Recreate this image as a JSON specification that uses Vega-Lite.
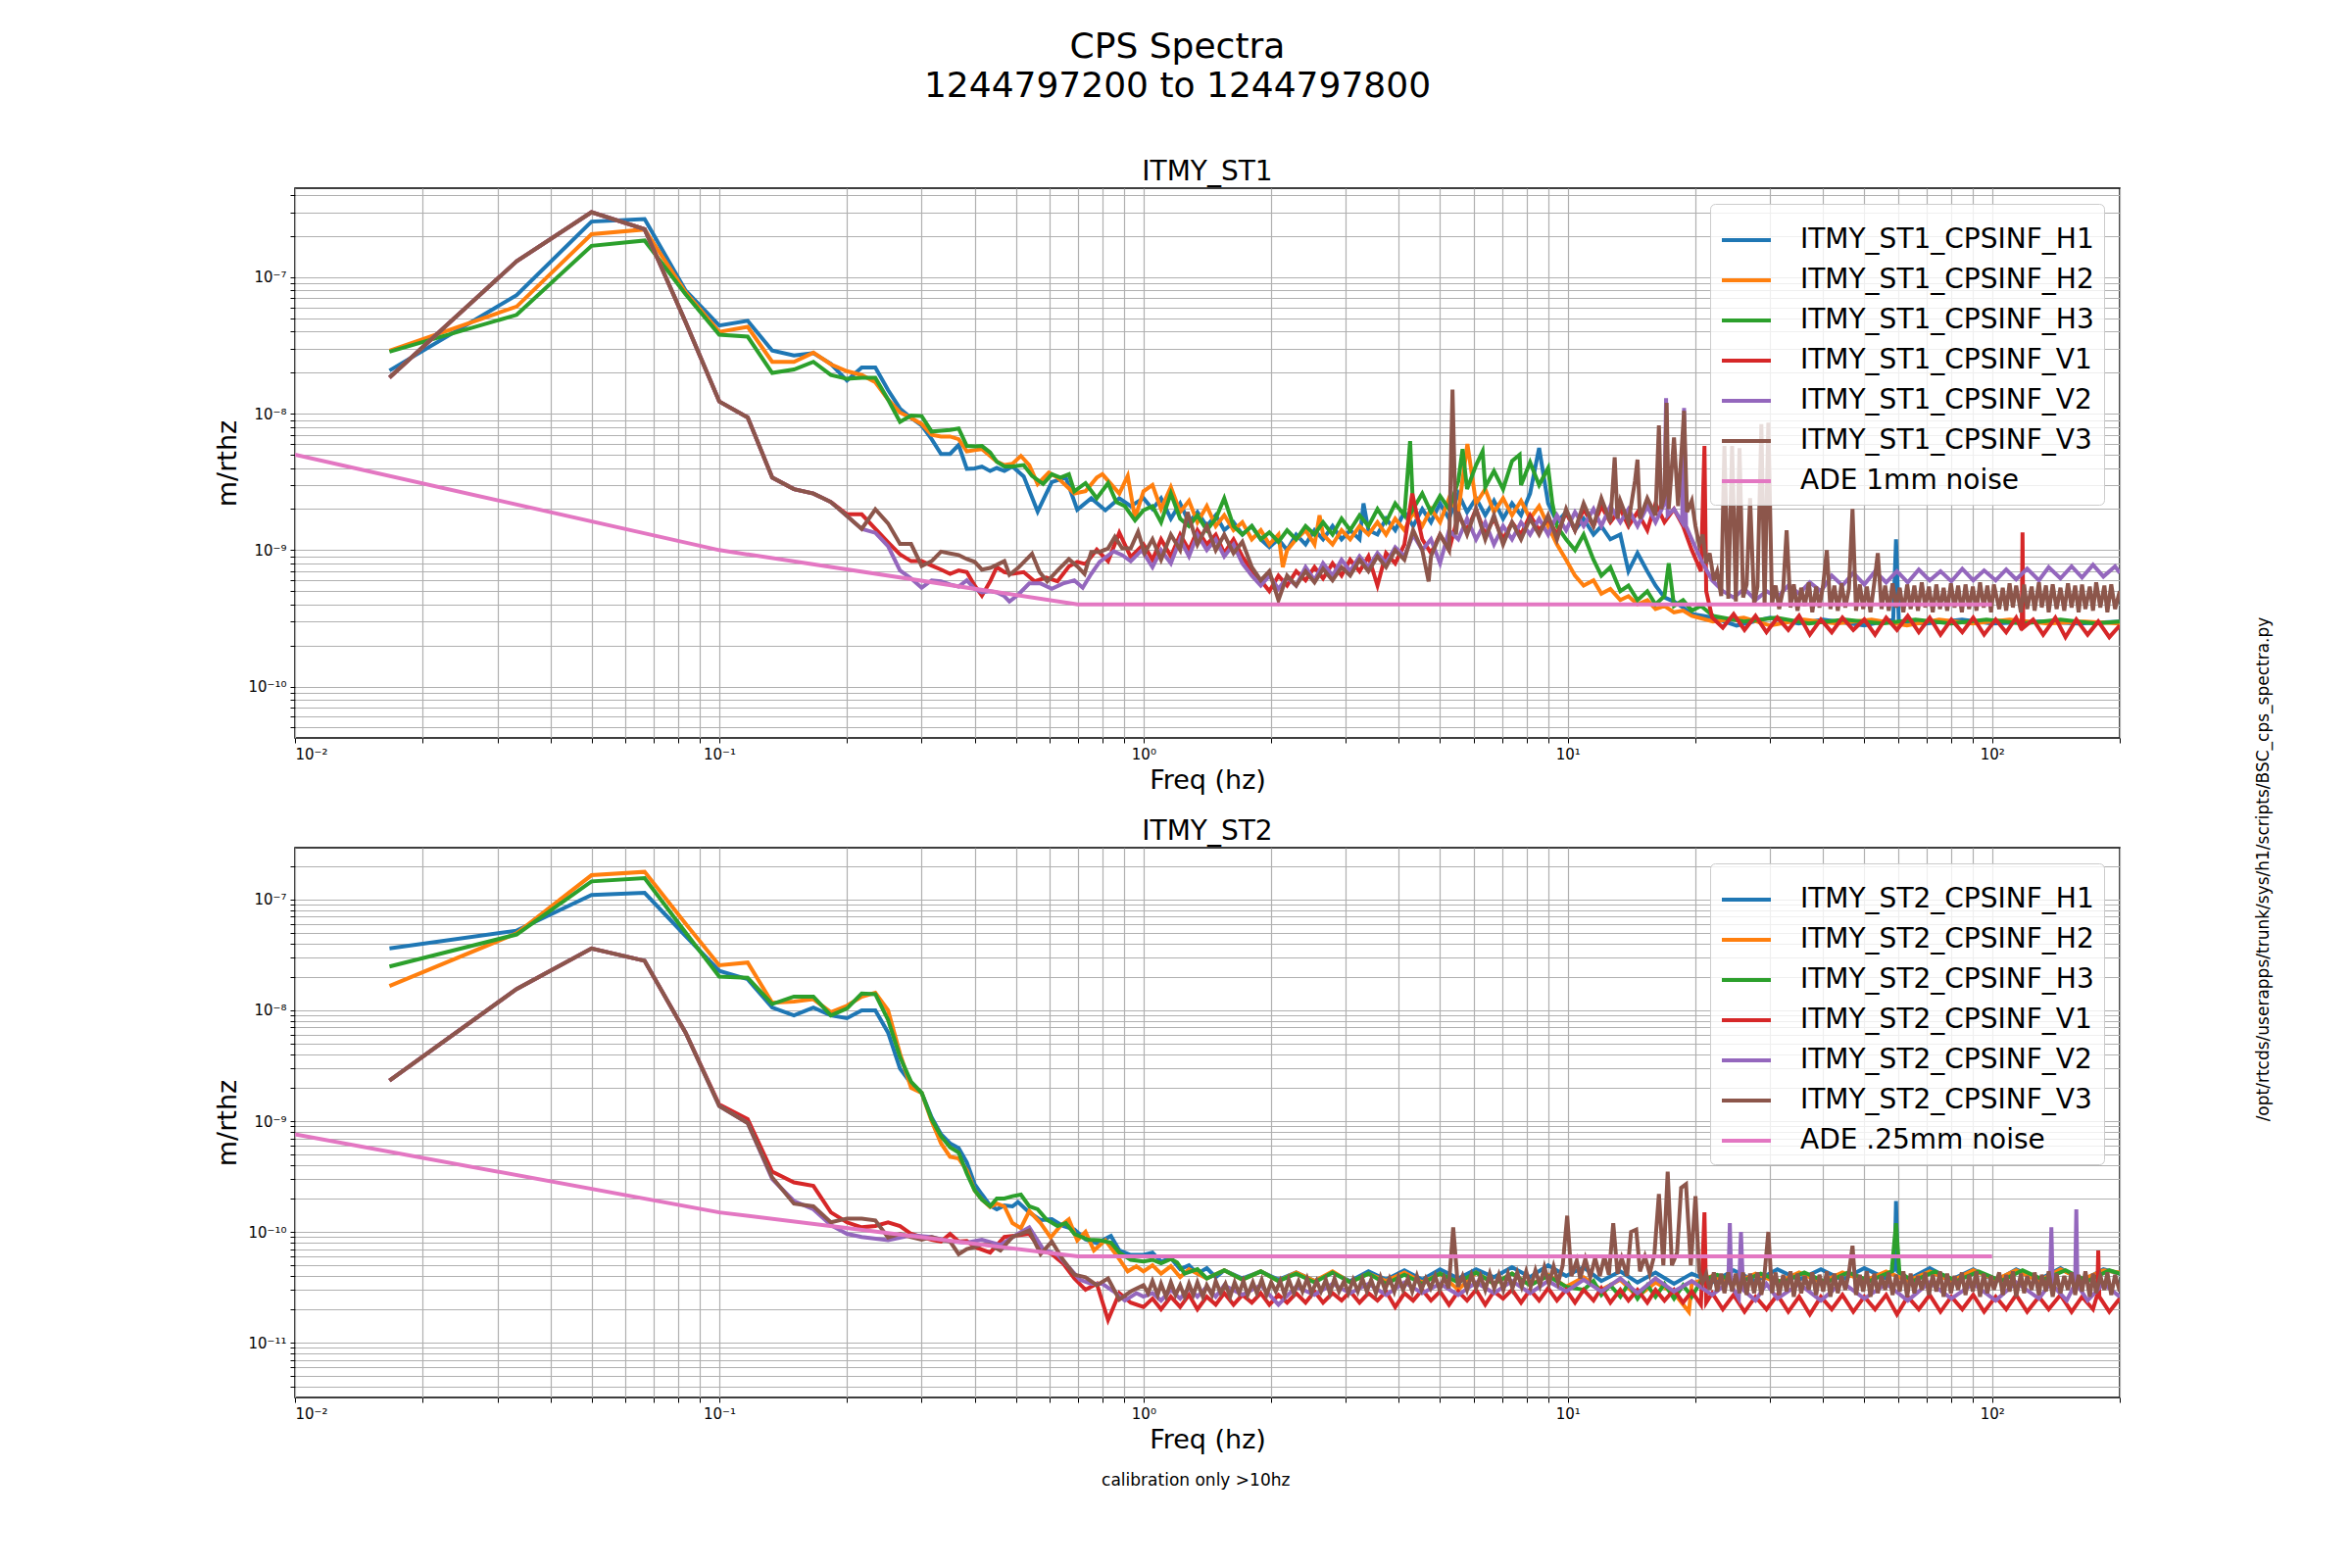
{
  "$schema": "https://vega.github.io/schema/vega-lite/v6.json",
  "background": "white",
  "padding": {"left": 218, "top": 30, "right": 0, "bottom": 0},
  "title": {"text": ["CPS Spectra", "1244797200 to 1244797800"], "fontSize": 36, "fontWeight": "normal", "lineHeight": 40, "offset": 54, "anchor": "middle", "dx": -70},
  "datasets": {
    "top": [
      {"s": "ITMY_ST1_CPSINF_H1",
       "f": [0.0167,0.0333,0.05,0.0667,0.0833,0.1,0.1167,0.1333,0.15,0.1667,0.1833,0.2,0.2167,0.2333,0.25,0.2667,0.2833,0.3,0.3167,0.3333,0.35,0.3667,0.3833,0.4,
             0.416,0.435,0.451,0.47,0.491,0.522,0.563,0.608,0.656,0.698,0.753,0.813,0.877,0.933,1.0,
             1.05,1.1,1.16,1.22,1.28,1.34,1.41,1.48,1.55,1.63,1.71,1.8,1.89,1.98,2.08,2.18,2.29,2.41,2.53,2.65,2.79,2.93,3.07,3.23,3.3,3.39,3.56,3.73,3.92,4.12,4.32,4.54,4.76,5.0,5.25,5.52,5.79,6.08,6.39,6.7,7.04,7.39,7.76,8.15,8.56,8.99,9.43,9.91,10.4,10.9,11.5,12.0,12.6,13.3,13.9,14.6,15.4,16.1,16.9,17.8,18.7,19.6,
             22,25,30,35,40,50,58.5,59.4,60.3,70,85,100,130,160,200],
       "v": [2.07e-8,7.4e-8,2.56e-7,2.67e-7,8.0e-8,4.43e-8,4.8e-8,2.9e-8,2.67e-8,2.78e-8,2.32e-8,1.75e-8,2.18e-8,2.18e-8,1.49e-8,1.09e-8,9.3e-9,8.2e-9,6.5e-9,5.07e-9,5.07e-9,5.9e-9,3.94e-9,3.97e-9,
             4.1e-9,3.8e-9,4.0e-9,3.8e-9,4.1e-9,3.47e-9,1.92e-9,3.16e-9,3.4e-9,1.98e-9,2.4e-9,1.96e-9,2.4e-9,2.1e-9,2.4e-9,
             2.0e-9,2.4e-9,1.7e-9,2.2e-9,1.6e-9,1.9e-9,1.5e-9,1.8e-9,1.4e-9,1.6e-9,1.3e-9,1.5e-9,1.2e-9,1.05e-9,1.2e-9,1.0e-9,1.3e-9,1.1e-9,1.4e-9,1.2e-9,1.5e-9,1.2e-9,1.4e-9,1.2e-9,2.2e-9,1.4e-9,1.3e-9,1.7e-9,1.4e-9,1.9e-9,1.5e-9,2.0e-9,1.6e-9,2.2e-9,1.7e-9,2.6e-9,1.9e-9,2.4e-9,1.8e-9,2.3e-9,1.7e-9,2.2e-9,1.8e-9,2.6e-9,5.6e-9,2.2e-9,1.6e-9,1.9e-9,1.4e-9,1.7e-9,1.3e-9,1.5e-9,1.2e-9,1.3e-9,7e-10,9.5e-10,7e-10,5.5e-10,4.5e-10,4.2e-10,3.8e-10,3.4e-10,
             3.2e-10,2.8e-10,3.2e-10,2.9e-10,3.1e-10,2.8e-10,3.1e-10,1.2e-9,3.0e-10,2.9e-10,3.1e-10,2.9e-10,3.0e-10,2.9e-10,3.0e-10]},
      {"s": "ITMY_ST1_CPSINF_H2",
       "f": [0.0167,0.0333,0.05,0.0667,0.0833,0.1,0.1167,0.1333,0.15,0.1667,0.1833,0.2,0.2167,0.2333,0.25,0.2667,0.2833,0.3,0.3167,0.3333,0.35,0.3667,0.3833,0.4,
             0.416,0.435,0.451,0.47,0.491,0.514,0.538,0.563,0.598,0.627,0.687,0.73,0.776,0.8,0.877,0.918,0.955,1.0,
             1.05,1.1,1.16,1.22,1.28,1.34,1.41,1.48,1.55,1.63,1.71,1.8,1.89,1.98,2.08,2.13,2.18,2.29,2.41,2.53,2.6,2.65,2.79,2.93,3.07,3.23,3.39,3.56,3.73,3.92,4.12,4.32,4.54,4.76,5.0,5.25,5.52,5.8,6.08,6.39,6.7,7.04,7.39,7.76,8.15,8.56,8.99,9.43,9.91,10.4,10.9,11.5,12.0,12.6,13.3,13.9,14.6,15.4,16.1,16.9,17.8,18.7,19.6,
             22,26,30,36,43,52,63,75,90,110,135,165,200],
       "v": [2.9e-8,6.1e-8,2.07e-7,2.24e-7,7.76e-8,3.98e-8,4.33e-8,2.4e-8,2.4e-8,2.8e-8,2.3e-8,2.05e-8,1.92e-8,1.7e-8,1.27e-8,1.02e-8,9.3e-9,8.4e-9,7.0e-9,6.8e-9,6.8e-9,6.5e-9,5.3e-9,5.4e-9,
             5.5e-9,4.9e-9,4.45e-9,4.2e-9,4.3e-9,4.9e-9,4.2e-9,3.05e-9,3.7e-9,3.4e-9,2.6e-9,2.7e-9,3.4e-9,3.6e-9,2.6e-9,3.5e-9,1.72e-9,2.7e-9,
             3.0e-9,2.0e-9,2.9e-9,1.9e-9,2.3e-9,1.6e-9,2.1e-9,1.5e-9,1.8e-9,1.4e-9,1.6e-9,1.2e-9,1.4e-9,1.1e-9,1.3e-9,7.5e-10,1.0e-9,1.2e-9,1.4e-9,1.1e-9,1.8e-9,1.3e-9,1.1e-9,1.4e-9,1.2e-9,1.5e-9,1.3e-9,1.6e-9,1.3e-9,1.7e-9,1.4e-9,1.9e-9,1.5e-9,2.0e-9,1.6e-9,2.4e-9,1.9e-9,6.0e-9,2.2e-9,2.8e-9,1.9e-9,2.4e-9,1.8e-9,2.3e-9,1.7e-9,2.1e-9,1.5e-9,1.1e-9,8.5e-10,6.5e-10,5.5e-10,6.0e-10,4.8e-10,5.2e-10,4.3e-10,4.6e-10,4.0e-10,4.3e-10,3.7e-10,3.9e-10,3.5e-10,3.6e-10,3.3e-10,
             3.0e-10,3.2e-10,2.8e-10,3.1e-10,2.9e-10,3.1e-10,2.8e-10,3.1e-10,2.9e-10,3.1e-10,2.9e-10,3.0e-10,2.9e-10]},
      {"s": "ITMY_ST1_CPSINF_H3",
       "f": [0.0167,0.0333,0.05,0.0667,0.0833,0.1,0.1167,0.1333,0.15,0.1667,0.1833,0.2,0.2167,0.2333,0.25,0.2667,0.2833,0.3,0.3167,0.3333,0.35,0.3667,0.3833,0.4,
             0.416,0.435,0.451,0.47,0.491,0.522,0.546,0.58,0.608,0.637,0.667,0.687,0.73,0.776,0.825,0.863,0.904,0.955,1.0,
             1.05,1.1,1.16,1.22,1.28,1.34,1.41,1.48,1.55,1.63,1.71,1.8,1.89,1.98,2.08,2.18,2.29,2.41,2.53,2.65,2.79,2.93,3.07,3.23,3.39,3.56,3.73,3.92,4.12,4.25,4.32,4.54,4.76,5.0,5.25,5.52,5.65,5.79,6.08,6.3,6.39,6.7,7.04,7.39,7.7,7.76,8.15,8.56,8.99,9.2,9.43,9.91,10.4,10.9,11.5,12.0,12.6,13.3,13.9,14.6,15.4,16.1,16.9,17.3,17.8,18.7,19.6,20.6,
             22,26,31,37,45,55,66,80,97,118,145,175,200],
       "v": [2.85e-8,5.3e-8,1.7e-7,1.86e-7,7.5e-8,3.79e-8,3.67e-8,1.99e-8,2.11e-8,2.4e-8,1.92e-8,1.8e-8,1.83e-8,1.83e-8,1.27e-8,8.7e-9,9.7e-9,9.6e-9,7.4e-9,7.5e-9,7.6e-9,7.8e-9,5.8e-9,5.76e-9,
             5.8e-9,5.2e-9,4.45e-9,4.1e-9,4.1e-9,4.2e-9,3.5e-9,3.05e-9,3.6e-9,3.4e-9,3.6e-9,2.7e-9,3.1e-9,2.4e-9,3.1e-9,2.25e-9,2.1e-9,1.65e-9,1.96e-9,
             2.1e-9,1.6e-9,2.6e-9,1.7e-9,1.5e-9,1.8e-9,1.4e-9,1.7e-9,2.4e-9,1.5e-9,1.3e-9,1.5e-9,1.2e-9,1.35e-9,1.15e-9,1.4e-9,1.2e-9,1.5e-9,1.3e-9,1.6e-9,1.3e-9,1.7e-9,1.4e-9,1.8e-9,1.5e-9,2.0e-9,1.6e-9,2.2e-9,1.8e-9,6.3e-9,2.0e-9,2.6e-9,1.9e-9,2.5e-9,2.0e-9,3.2e-9,5.5e-9,2.8e-9,4.2e-9,5.3e-9,2.9e-9,3.8e-9,2.8e-9,4.5e-9,5.0e-9,3.0e-9,4.4e-9,3.0e-9,4.0e-9,2.2e-9,1.5e-9,1.2e-9,1.0e-9,1.3e-9,8.5e-10,6.5e-10,7.5e-10,5.0e-10,5.5e-10,4.3e-10,5.0e-10,4.0e-10,4.6e-10,8.0e-10,3.9e-10,4.3e-10,3.6e-10,3.9e-10,
             3.3e-10,3.0e-10,3.2e-10,2.9e-10,3.1e-10,2.9e-10,3.1e-10,2.9e-10,3.1e-10,2.9e-10,3.1e-10,2.9e-10,3.0e-10]},
      {"s": "ITMY_ST1_CPSINF_V1",
       "f": [0.0167,0.0333,0.05,0.0667,0.0833,0.1,0.1167,0.1333,0.15,0.1667,0.1833,0.2,0.2167,0.2333,0.25,0.2667,0.2833,0.3,0.3167,0.3333,0.35,0.3667,0.3833,0.4,
             0.416,0.435,0.451,0.47,0.491,0.522,0.554,0.59,0.627,0.667,0.698,0.73,0.776,0.825,0.877,0.933,1.0,
             1.05,1.1,1.16,1.22,1.28,1.34,1.41,1.48,1.55,1.63,1.71,1.8,1.89,1.98,2.08,2.18,2.29,2.41,2.53,2.65,2.79,2.93,3.07,3.23,3.39,3.56,3.73,3.92,4.12,4.3,4.54,4.76,5.0,5.25,5.52,5.79,6.08,6.39,6.7,7.04,7.39,7.76,8.15,8.56,8.99,9.43,9.91,10.4,10.9,11.5,12.0,12.6,13.3,13.9,14.6,15.4,16.1,16.9,17.8,18.7,19.6,20.6,21.0,21.2,
             21.9,23.2,24.6,26.1,27.7,29.4,31.2,33.1,35.1,37.2,39.5,41.9,44.4,47.1,50,53,56.3,59.7,63.3,67.2,71.3,75.6,80.2,85.1,90.3,95.8,102,108,114,117.5,118,118.5,125,132,141,149,158,168,178,189,200],
       "v": [1.84e-8,1.31e-7,3.0e-7,2.25e-7,4.7e-8,1.23e-8,9.4e-9,3.4e-9,2.8e-9,2.6e-9,2.25e-9,1.83e-9,1.83e-9,1.43e-9,1.14e-9,9.3e-10,8.3e-10,8.3e-10,7.7e-10,7.2e-10,6.7e-10,7.1e-10,6.9e-10,5.5e-10,
             4.63e-10,5.9e-10,7.5e-10,6.9e-10,6.7e-10,6.9e-10,5.9e-10,6.3e-10,5.9e-10,7.6e-10,8.2e-10,7.9e-10,1.01e-9,8.3e-10,1.34e-9,8.9e-10,1.1e-9,
             8.5e-10,1.2e-9,9e-10,1.3e-9,1.0e-9,1.4e-9,1.1e-9,1.3e-9,9.5e-10,1.2e-9,9e-10,7e-10,6e-10,5e-10,6.5e-10,5.5e-10,7e-10,6e-10,7.5e-10,6.2e-10,8e-10,6.5e-10,8.5e-10,7e-10,9e-10,5.5e-10,9.5e-10,8e-10,1.1e-9,2.6e-9,1.2e-9,9.5e-10,1.3e-9,1.0e-9,1.8e-9,1.4e-9,2.0e-9,1.3e-9,1.7e-9,1.2e-9,1.6e-9,1.3e-9,1.8e-9,1.4e-9,1.7e-9,1.3e-9,1.9e-9,1.4e-9,2.0e-9,1.5e-9,2.1e-9,1.6e-9,2.0e-9,1.5e-9,1.9e-9,1.4e-9,2.2e-9,1.6e-9,2.0e-9,1.5e-9,1.0e-9,7e-10,5.8e-9,5.0e-10,
             3.2e-10,2.7e-10,3.4e-10,2.6e-10,3.3e-10,2.5e-10,3.2e-10,2.6e-10,3.3e-10,2.4e-10,3.1e-10,2.5e-10,3.2e-10,2.6e-10,3.1e-10,2.4e-10,3.2e-10,2.6e-10,3.3e-10,2.5e-10,3.2e-10,2.4e-10,3.1e-10,2.5e-10,3.2e-10,2.4e-10,3.1e-10,2.5e-10,3.2e-10,2.6e-10,1.35e-9,2.7e-10,3.1e-10,2.4e-10,3.2e-10,2.3e-10,3.1e-10,2.4e-10,3.0e-10,2.3e-10,2.8e-10]},
      {"s": "ITMY_ST1_CPSINF_V2",
       "f": [0.0167,0.0333,0.05,0.0667,0.0833,0.1,0.1167,0.1333,0.15,0.1667,0.1833,0.2,0.2167,0.2333,0.25,0.2667,0.2833,0.3,0.3167,0.3333,0.35,0.3667,0.3833,0.4,
             0.416,0.435,0.451,0.47,0.483,0.506,0.538,0.572,0.608,0.646,0.687,0.719,0.753,0.788,0.851,0.891,0.933,0.991,
             1.05,1.1,1.16,1.22,1.28,1.34,1.41,1.48,1.55,1.63,1.71,1.8,1.89,1.98,2.08,2.18,2.29,2.41,2.53,2.65,2.79,2.93,3.07,3.23,3.39,3.56,3.73,3.92,4.12,4.32,4.54,4.76,5.0,5.25,5.52,5.79,6.08,6.39,6.7,7.04,7.39,7.76,8.15,8.56,8.99,9.43,9.91,10.4,10.9,11.5,12.0,12.6,13.3,13.9,14.6,15.4,16.1,16.9,17.05,17.2,17.8,18.6,18.8,19.0,19.6,20.6,
             21.9,23.2,24.6,26.1,27.7,29.4,31.2,33.1,35.1,37.2,39.5,41.9,44.4,47.1,50,53,56.3,59.7,63.3,67.2,71.3,75.6,80.2,85.1,90.3,95.8,102,108,114,121,129,136,145,154,163,173,183,195,200],
       "v": [1.84e-8,1.31e-7,3.0e-7,2.25e-7,4.7e-8,1.23e-8,9.4e-9,3.4e-9,2.8e-9,2.6e-9,2.25e-9,1.78e-9,1.43e-9,1.34e-9,1.07e-9,7.1e-10,6.2e-10,5.3e-10,6.0e-10,5.9e-10,5.6e-10,5.4e-10,6.0e-10,5.2e-10,
             4.9e-10,5.0e-10,4.9e-10,4.6e-10,4.2e-10,4.7e-10,5.7e-10,5.7e-10,5.2e-10,5.7e-10,6.0e-10,5.3e-10,6.7e-10,8.2e-10,9.8e-10,9.2e-10,8.3e-10,1.0e-9,
             7.5e-10,1.0e-9,8e-10,1.2e-9,9e-10,1.3e-9,1.0e-9,1.2e-9,9e-10,1.1e-9,8e-10,6.5e-10,5.5e-10,6.5e-10,5.2e-10,6.3e-10,5.5e-10,7.5e-10,6.0e-10,8.0e-10,6.5e-10,8.5e-10,7.0e-10,9.0e-10,7.5e-10,9.5e-10,8.0e-10,1.05e-9,9.0e-10,1.3e-9,1.0e-9,1.2e-9,8.0e-10,1.4e-9,1.2e-9,1.7e-9,1.2e-9,1.6e-9,1.1e-9,1.5e-9,1.2e-9,1.6e-9,1.3e-9,1.7e-9,1.3e-9,1.8e-9,1.4e-9,1.9e-9,1.5e-9,2.0e-9,1.5e-9,2.1e-9,1.6e-9,2.0e-9,1.5e-9,2.1e-9,1.6e-9,2.2e-9,1.3e-8,1.8e-9,2.0e-9,1.6e-9,1.1e-8,1.5e-9,1.2e-9,8.5e-10,
             6.0e-10,5.0e-10,4.5e-10,5.2e-10,4.3e-10,5.0e-10,4.5e-10,5.5e-10,4.8e-10,5.8e-10,5.0e-10,6.5e-10,5.5e-10,6.8e-10,5.6e-10,7.0e-10,5.8e-10,7.0e-10,5.8e-10,7.2e-10,6.0e-10,7.0e-10,5.9e-10,7.3e-10,6.0e-10,7.1e-10,6.0e-10,7.2e-10,6.1e-10,7.3e-10,6.0e-10,7.5e-10,6.2e-10,7.6e-10,6.3e-10,7.8e-10,6.4e-10,7.6e-10,6.8e-10]},
      {"s": "ITMY_ST1_CPSINF_V3",
       "f": [0.0167,0.0333,0.05,0.0667,0.0833,0.1,0.1167,0.1333,0.15,0.1667,0.1833,0.2,0.2167,0.2333,0.25,0.2667,0.2833,0.3,0.3167,0.3333,0.35,0.3667,0.3833,0.4,
             0.416,0.435,0.451,0.47,0.483,0.506,0.546,0.569,0.593,0.627,0.667,0.698,0.726,0.753,0.788,0.825,0.856,0.891,0.933,0.971,1.006,
             1.05,1.1,1.16,1.22,1.27,1.34,1.41,1.48,1.55,1.63,1.71,1.8,1.89,1.98,2.08,2.18,2.29,2.41,2.53,2.65,2.79,2.93,3.07,3.23,3.39,3.56,3.73,3.92,4.12,4.32,4.54,4.7,4.76,5.0,5.25,5.35,5.45,5.52,5.79,6.08,6.39,6.7,7.04,7.39,7.76,8.15,8.56,8.99,9.43,9.91,10.4,10.9,11.5,12.0,12.6,12.9,13.1,13.3,13.9,14.4,14.6,14.8,15.4,16.1,16.4,16.6,16.9,17.1,17.3,17.8,18.2,18.8,19.1,19.6,
             20.0,20.4,20.8,21.2,21.6,22.1,22.5,23.0,23.4,23.9,24.4,24.9,25.4,25.9,26.4,26.9,27.5,28.0,28.6,29.1,29.7,30.3,30.9,31.5,32.2,32.8,33.5,34.1,34.8,35.5,36.2,37.0,37.7,38.5,39.2,40.0,40.8,41.6,42.5,43.3,44.2,45.1,46.0,46.9,47.8,48.8,49.7,50.7,51.7,52.8,53.8,54.9,56.0,57.1,58.3,59.4,60.6,61.8,63.1,64.3,65.6,66.9,68.3,69.6,71.0,72.5,73.9,75.4,76.9,78.4,80.0,81.6,83.2,84.9,86.6,88.3,90.1,91.9,93.7,95.6,97.5,99.5,101,104,106,108,110,112,114,117,119,121,124,126,129,131,134,136,139,142,145,148,151,154,157,160,163,166,170,173,176,180,184,187,191,195,200],
       "v": [1.84e-8,1.31e-7,3.0e-7,2.25e-7,4.7e-8,1.23e-8,9.4e-9,3.4e-9,2.8e-9,2.6e-9,2.25e-9,1.78e-9,1.43e-9,1.99e-9,1.57e-9,1.11e-9,1.11e-9,7.66e-10,8.3e-10,9.75e-10,9.45e-10,9.2e-10,8.6e-10,8.2e-10,
             7.2e-10,7.4e-10,7.8e-10,8.3e-10,6.6e-10,7.4e-10,9.4e-10,6.9e-10,5.9e-10,7.1e-10,8.6e-10,7.6e-10,6.7e-10,9.7e-10,9.7e-10,1.03e-9,1.25e-9,1.03e-9,1.03e-9,1.36e-9,9.5e-10,
             1.2e-9,8.5e-10,1.3e-9,1.0e-9,1.9e-9,1.1e-9,1.5e-9,1.0e-9,1.3e-9,9.5e-10,1.15e-9,7.5e-10,6.0e-10,7.0e-10,4.3e-10,6.5e-10,5.5e-10,7.0e-10,5.8e-10,7.3e-10,6.0e-10,7.5e-10,6.5e-10,8.5e-10,7.0e-10,9.0e-10,7.5e-10,1.0e-9,8.5e-10,1.4e-9,1.0e-9,5.9e-10,9.0e-10,1.3e-9,1.0e-9,1.5e-8,1.3e-9,1.9e-9,1.3e-9,2.0e-9,1.2e-9,1.8e-9,1.1e-9,1.6e-9,1.2e-9,1.7e-9,1.3e-9,1.8e-9,1.2e-9,2.0e-9,1.4e-9,2.2e-9,1.5e-9,2.4e-9,1.6e-9,4.8e-9,1.7e-9,2.3e-9,1.6e-9,3.2e-9,4.6e-9,1.7e-9,2.4e-9,1.8e-9,8.2e-9,2.0e-9,2.5e-9,1.2e-8,2.0e-9,6.7e-9,2.1e-9,1.05e-8,1.9e-9,2.3e-9,
             1.5e-9,1.1e-9,1.3e-9,8.0e-10,9.5e-10,6.0e-10,7.0e-10,4.6e-10,5.8e-9,4.4e-10,5.8e-9,4.2e-10,5.6e-9,4.5e-10,5.6e-10,2.4e-9,4.0e-10,5.4e-10,8.4e-9,3.9e-10,8.6e-9,4.0e-10,5.5e-10,3.7e-10,5.2e-10,1.4e-9,3.8e-10,5.6e-10,3.6e-10,5.3e-10,3.9e-10,5.8e-10,3.5e-10,5.4e-10,3.8e-10,5.6e-10,1.0e-9,3.7e-10,5.5e-10,3.6e-10,5.7e-10,3.8e-10,5.2e-10,2.0e-9,3.6e-10,5.6e-10,3.7e-10,5.4e-10,3.5e-10,5.8e-10,9.5e-10,3.7e-10,5.5e-10,3.6e-10,5.7e-10,3.8e-10,5.3e-10,3.5e-10,5.6e-10,3.7e-10,5.5e-10,3.6e-10,5.8e-10,3.8e-10,5.4e-10,3.5e-10,5.6e-10,3.7e-10,5.3e-10,3.6e-10,5.7e-10,3.8e-10,5.5e-10,3.5e-10,5.6e-10,3.7e-10,5.4e-10,3.6e-10,5.8e-10,3.8e-10,5.5e-10,3.5e-10,5.6e-10,3.7e-10,5.3e-10,3.6e-10,5.7e-10,3.8e-10,5.5e-10,3.5e-10,5.6e-10,3.7e-10,5.4e-10,3.6e-10,5.8e-10,3.8e-10,5.5e-10,3.5e-10,5.6e-10,3.7e-10,5.3e-10,3.6e-10,5.7e-10,3.8e-10,5.5e-10,3.5e-10,5.6e-10,3.7e-10,5.4e-10,3.6e-10,5.8e-10,3.8e-10,5.5e-10,3.5e-10,5.6e-10,3.7e-10,5.0e-10]},
      {"s": "ADE 1mm noise", "f": [0.01,0.1,0.7,100], "v": [5e-9,1e-9,4e-10,4e-10]}
    ],
    "bot": [
      {"s": "ITMY_ST2_CPSINF_H1",
       "f": [0.0167,0.0333,0.05,0.0667,0.0833,0.1,0.1167,0.1333,0.15,0.1667,0.1833,0.2,0.2167,0.2333,0.25,0.2667,0.2833,0.3,0.3167,0.3333,0.35,0.3667,0.3833,0.4,
             0.416,0.435,0.451,0.47,0.491,0.506,0.538,0.572,0.608,0.646,0.687,0.73,0.776,0.838,0.877,0.933,1.0,
             1.05,1.1,1.16,1.22,1.28,1.34,1.41,1.48,1.55,1.71,1.89,2.08,2.29,2.53,2.79,3.07,3.39,3.73,4.12,4.54,5.0,5.52,6.08,6.7,7.39,8.15,8.99,9.91,10.9,12.0,13.3,14.6,16.1,17.8,19.6,21.9,24.6,27.7,31.2,35.1,39.5,44.4,50,56.3,58.9,59.4,59.9,63.3,71.3,80.2,90.3,102,114,129,145,163,183,200],
       "v": [3.62e-8,5.24e-8,1.1e-7,1.15e-7,4.7e-8,2.27e-8,1.91e-8,1.06e-8,9.0e-9,1.06e-8,9.0e-9,8.5e-9,1.0e-8,1.0e-8,6.3e-9,2.98e-9,2.18e-9,1.8e-9,1.08e-9,7.6e-10,6.3e-10,5.7e-10,4.24e-10,2.7e-10,
             2.18e-10,1.73e-10,1.6e-10,1.73e-10,1.7e-10,1.86e-10,1.5e-10,1.28e-10,1.3e-10,1.13e-10,1.05e-10,8.55e-11,7.9e-11,9.2e-11,6.8e-11,6.2e-11,6.2e-11,
             6.5e-11,5.4e-11,5.8e-11,4.6e-11,5.0e-11,4.2e-11,4.7e-11,3.9e-11,4.5e-11,3.8e-11,4.4e-11,3.7e-11,4.3e-11,3.6e-11,4.3e-11,3.6e-11,4.4e-11,3.7e-11,4.5e-11,3.7e-11,4.6e-11,3.8e-11,4.6e-11,3.9e-11,4.8e-11,3.9e-11,5.0e-11,4.0e-11,4.8e-11,3.6e-11,4.4e-11,3.5e-11,4.3e-11,3.4e-11,4.2e-11,3.5e-11,4.5e-11,3.6e-11,4.6e-11,3.7e-11,4.6e-11,3.7e-11,4.7e-11,3.8e-11,4.6e-11,1.9e-10,4.4e-11,3.7e-11,4.7e-11,3.7e-11,4.6e-11,3.6e-11,4.6e-11,3.7e-11,4.7e-11,3.6e-11,4.6e-11,4.2e-11]},
      {"s": "ITMY_ST2_CPSINF_H2",
       "f": [0.0167,0.0333,0.05,0.0667,0.0833,0.1,0.1167,0.1333,0.15,0.1667,0.1833,0.2,0.2167,0.2333,0.25,0.2667,0.2833,0.3,0.3167,0.3333,0.35,0.3667,0.3833,0.4,
             0.416,0.435,0.451,0.47,0.491,0.514,0.538,0.572,0.604,0.637,0.667,0.698,0.73,0.764,0.813,0.863,0.918,0.962,1.0,
             1.05,1.1,1.16,1.22,1.28,1.41,1.55,1.71,1.89,2.08,2.29,2.53,2.79,3.07,3.39,3.73,4.12,4.54,5.0,5.52,6.08,6.7,7.39,8.15,8.99,9.91,10.9,12.0,13.3,14.6,16.1,17.8,19.3,19.6,21.9,24.6,27.7,31.2,35.1,39.5,44.4,50,56.3,63.3,71.3,80.2,90.3,102,114,129,145,163,183,200],
       "v": [1.66e-8,4.96e-8,1.66e-7,1.78e-7,6.06e-8,2.55e-8,2.7e-8,1.17e-8,1.2e-8,1.26e-8,9.6e-9,1.1e-8,1.33e-8,1.44e-8,1.0e-8,4.07e-9,2.0e-9,1.8e-9,1.0e-9,6.3e-10,4.77e-10,4.6e-10,3.6e-10,2.37e-10,
             1.96e-10,1.68e-10,1.8e-10,1.7e-10,1.2e-10,1.08e-10,1.54e-10,1.2e-10,8.9e-11,1.13e-10,1.3e-10,8.4e-11,1.0e-10,6.8e-11,8.4e-11,6.2e-11,4.4e-11,4.9e-11,4.4e-11,
             5.0e-11,4.2e-11,4.9e-11,3.9e-11,4.6e-11,3.8e-11,4.5e-11,3.7e-11,4.4e-11,3.6e-11,4.3e-11,3.6e-11,4.4e-11,3.5e-11,4.2e-11,3.6e-11,4.3e-11,3.5e-11,4.2e-11,3.0e-11,4.3e-11,3.4e-11,4.2e-11,3.3e-11,4.1e-11,3.2e-11,3.9e-11,3.0e-11,3.7e-11,2.6e-11,3.5e-11,2.8e-11,1.9e-11,3.4e-11,4.0e-11,3.4e-11,4.2e-11,3.5e-11,4.3e-11,3.5e-11,4.3e-11,3.6e-11,4.4e-11,3.6e-11,4.4e-11,3.6e-11,4.5e-11,3.7e-11,4.5e-11,3.6e-11,4.6e-11,3.7e-11,4.5e-11,4.3e-11]},
      {"s": "ITMY_ST2_CPSINF_H3",
       "f": [0.0167,0.0333,0.05,0.0667,0.0833,0.1,0.1167,0.1333,0.15,0.1667,0.1833,0.2,0.2167,0.2333,0.25,0.2667,0.2833,0.3,0.3167,0.3333,0.35,0.3667,0.3833,0.4,
             0.416,0.435,0.451,0.47,0.491,0.514,0.538,0.563,0.59,0.627,0.656,0.687,0.741,0.788,0.838,0.877,0.933,1.0,
             1.05,1.1,1.16,1.2,1.25,1.34,1.41,1.55,1.71,1.89,2.08,2.29,2.53,2.79,3.07,3.39,3.73,4.12,4.54,5.0,5.52,6.08,6.7,7.39,8.15,8.99,9.91,10.9,11.5,12.0,12.6,13.3,13.9,14.6,15.4,16.1,16.9,17.8,18.7,19.6,20.6,22.5,25.3,28.5,32.1,36.1,40.7,45.8,51.5,58,59.4,60.5,65.2,73.4,82.6,93,105,118,132,149,168,189,200],
       "v": [2.49e-8,4.84e-8,1.46e-7,1.56e-7,5.04e-8,2.02e-8,1.97e-8,1.14e-8,1.33e-8,1.33e-8,9.0e-9,1.04e-8,1.42e-8,1.4e-8,8.2e-9,3.8e-9,2.27e-9,1.8e-9,1.04e-9,7.3e-10,5.8e-10,5.2e-10,3.36e-10,2.37e-10,
             1.96e-10,1.7e-10,2.0e-10,2.0e-10,2.1e-10,2.17e-10,1.7e-10,1.6e-10,1.3e-10,1.13e-10,1.2e-10,9.6e-11,8.5e-11,8.4e-11,8.0e-11,6.5e-11,5.6e-11,5.4e-11,
             5.6e-11,5.2e-11,5.7e-11,5.3e-11,4.2e-11,4.6e-11,3.8e-11,4.5e-11,3.7e-11,4.4e-11,3.6e-11,4.2e-11,3.5e-11,4.3e-11,3.5e-11,4.2e-11,3.4e-11,4.1e-11,3.4e-11,4.2e-11,3.5e-11,4.3e-11,3.4e-11,4.2e-11,3.3e-11,4.0e-11,3.2e-11,3.0e-11,3.6e-11,2.7e-11,3.3e-11,2.6e-11,3.4e-11,2.5e-11,3.3e-11,2.6e-11,3.4e-11,2.5e-11,3.3e-11,2.6e-11,3.6e-11,4.1e-11,3.5e-11,4.2e-11,3.5e-11,4.3e-11,3.5e-11,4.3e-11,3.6e-11,4.4e-11,1.2e-10,4.3e-11,3.6e-11,4.4e-11,3.6e-11,4.4e-11,3.6e-11,4.5e-11,3.7e-11,4.5e-11,3.6e-11,4.5e-11,4.2e-11]},
      {"s": "ITMY_ST2_CPSINF_V1",
       "f": [0.0167,0.0333,0.05,0.0667,0.0833,0.1,0.1167,0.1333,0.15,0.1667,0.1833,0.2,0.2167,0.2333,0.25,0.2667,0.2833,0.3,0.3167,0.3333,0.35,0.3667,0.3833,0.4,
             0.435,0.47,0.506,0.538,0.572,0.608,0.646,0.687,0.73,0.776,0.825,0.877,0.933,1.0,
             1.05,1.1,1.16,1.22,1.28,1.34,1.41,1.48,1.55,1.63,1.71,1.8,1.89,1.98,2.08,2.18,2.29,2.41,2.53,2.65,2.79,2.93,3.07,3.23,3.39,3.56,3.73,3.92,4.12,4.32,4.54,4.76,5.0,5.25,5.52,5.79,6.08,6.39,6.7,7.04,7.39,7.76,8.15,8.56,8.99,9.43,9.91,10.4,10.9,11.5,12.0,12.6,13.3,13.9,14.6,15.4,16.1,16.9,17.8,18.7,19.6,20.6,21.0,21.2,21.9,23.2,24.6,26.1,27.7,29.4,31.2,33.1,35.1,37.2,39.5,41.9,44.4,47.1,50,53,56.3,59.7,63.3,67.2,71.3,75.6,80.2,85.1,90.3,95.8,102,108,114,121,129,136,145,154,163,173,177,178,179,189,200],
       "v": [2.32e-9,1.56e-8,3.62e-8,2.8e-8,6.3e-9,1.41e-9,1.04e-9,3.5e-10,2.8e-10,2.6e-10,1.5e-10,1.22e-10,1.1e-10,1.13e-10,1.22e-10,1.13e-10,9.6e-11,9.0e-11,8.5e-11,8.2e-11,9.6e-11,8.2e-11,8.3e-11,7.3e-11,
             6.5e-11,9.0e-11,9.3e-11,9.6e-11,7.0e-11,6.3e-11,5.2e-11,3.8e-11,3.0e-11,3.4e-11,1.6e-11,2.8e-11,2.3e-11,2.1e-11,
             2.5e-11,2.0e-11,2.6e-11,2.1e-11,2.7e-11,2.0e-11,2.6e-11,2.2e-11,2.8e-11,2.2e-11,2.7e-11,2.3e-11,2.8e-11,2.2e-11,2.7e-11,2.3e-11,2.8e-11,2.3e-11,2.9e-11,2.3e-11,2.8e-11,2.4e-11,2.9e-11,2.3e-11,2.8e-11,2.4e-11,2.9e-11,2.1e-11,2.8e-11,2.4e-11,3.0e-11,2.4e-11,2.9e-11,2.2e-11,2.9e-11,2.4e-11,3.0e-11,2.2e-11,2.9e-11,2.5e-11,3.0e-11,2.3e-11,3.0e-11,2.4e-11,3.1e-11,2.4e-11,3.0e-11,2.3e-11,3.0e-11,2.4e-11,3.1e-11,2.3e-11,3.0e-11,2.4e-11,3.0e-11,2.3e-11,3.0e-11,2.4e-11,3.0e-11,2.3e-11,2.9e-11,2.2e-11,1.5e-10,2.3e-11,2.8e-11,2.0e-11,2.7e-11,1.9e-11,2.6e-11,2.0e-11,2.7e-11,1.9e-11,2.6e-11,1.8e-11,2.6e-11,2.0e-11,2.7e-11,1.9e-11,2.6e-11,2.0e-11,2.7e-11,1.8e-11,2.6e-11,2.0e-11,2.7e-11,1.9e-11,2.6e-11,2.0e-11,2.7e-11,1.9e-11,2.6e-11,2.0e-11,2.7e-11,1.9e-11,2.6e-11,2.0e-11,2.7e-11,1.9e-11,2.6e-11,2.0e-11,2.7e-11,6.8e-11,2.6e-11,1.9e-11,2.5e-11]},
      {"s": "ITMY_ST2_CPSINF_V2",
       "f": [0.0167,0.0333,0.05,0.0667,0.0833,0.1,0.1167,0.1333,0.15,0.1667,0.1833,0.2,0.2167,0.25,0.2833,0.3167,0.35,0.3833,0.416,0.46,0.506,0.538,0.58,0.627,0.667,0.708,0.753,0.8,0.851,0.904,0.962,1.0,
             1.05,1.1,1.16,1.22,1.28,1.34,1.41,1.48,1.55,1.71,1.89,2.08,2.29,2.53,2.79,3.07,3.39,3.73,4.12,4.54,5.0,5.52,6.08,6.7,7.39,8.15,8.99,9.91,10.9,12.0,13.3,14.6,16.1,17.8,19.6,21.9,23.9,24.1,24.3,25.3,25.6,25.9,27.7,29.4,31.2,35.1,39.5,44.4,50,56.3,63.3,71.3,80.2,90.3,102,114,129,137,138,139,150,157,158,159,168,183,200],
       "v": [2.32e-9,1.56e-8,3.62e-8,2.8e-8,6.3e-9,1.37e-9,9.6e-10,3.0e-10,1.9e-10,1.6e-10,1.15e-10,9.6e-11,9.0e-11,8.4e-11,9.3e-11,9.0e-11,8.2e-11,8.0e-11,8.5e-11,7.6e-11,9.6e-11,1.1e-10,7.0e-11,6.2e-11,4.8e-11,3.7e-11,3.4e-11,3.4e-11,2.9e-11,2.4e-11,2.8e-11,2.6e-11,
             2.8e-11,2.4e-11,3.0e-11,2.5e-11,3.1e-11,2.6e-11,3.2e-11,2.6e-11,3.3e-11,2.7e-11,3.3e-11,2.2e-11,3.2e-11,2.7e-11,3.4e-11,2.8e-11,3.4e-11,2.7e-11,3.5e-11,2.8e-11,3.4e-11,2.7e-11,3.5e-11,2.8e-11,3.6e-11,2.8e-11,3.6e-11,2.9e-11,3.7e-11,2.9e-11,3.8e-11,2.8e-11,3.8e-11,2.9e-11,3.6e-11,2.7e-11,3.5e-11,1.2e-10,3.3e-11,2.5e-11,1.0e-10,3.0e-11,2.4e-11,3.4e-11,2.5e-11,3.4e-11,2.4e-11,3.5e-11,2.5e-11,3.4e-11,2.4e-11,3.5e-11,2.5e-11,3.4e-11,2.4e-11,3.5e-11,2.5e-11,3.4e-11,1.1e-10,3.3e-11,2.4e-11,3.4e-11,1.6e-10,3.3e-11,2.4e-11,3.4e-11,2.6e-11]},
      {"s": "ITMY_ST2_CPSINF_V3",
       "f": [0.0167,0.0333,0.05,0.0667,0.0833,0.1,0.1167,0.1333,0.15,0.1667,0.1833,0.2,0.2167,0.2333,0.25,0.2667,0.2833,0.3,0.3167,0.3333,0.35,0.3667,0.3833,0.4,
             0.416,0.435,0.46,0.491,0.514,0.538,0.572,0.608,0.646,0.687,0.73,0.776,0.825,0.877,0.933,1.0,
             1.025,1.05,1.08,1.10,1.13,1.16,1.19,1.22,1.25,1.28,1.31,1.34,1.38,1.41,1.45,1.48,1.52,1.56,1.60,1.64,1.68,1.72,1.76,1.81,1.85,1.90,1.95,2.00,2.05,2.10,2.15,2.20,2.26,2.32,2.37,2.43,2.49,2.56,2.62,2.69,2.75,2.82,2.89,2.97,3.04,3.12,3.20,3.28,3.36,3.44,3.53,3.62,3.71,3.80,3.90,3.99,4.09,4.20,4.30,4.41,4.52,4.63,4.75,4.87,4.99,5.11,5.24,5.37,5.51,5.65,5.79,5.93,6.08,6.23,6.39,6.55,6.71,6.88,7.05,7.23,7.41,7.60,7.79,7.98,8.18,8.39,8.60,8.81,9.03,9.26,9.49,9.73,9.97,10.2,10.5,10.7,11.0,11.3,11.6,11.9,12.2,12.5,12.8,13.1,13.4,13.8,14.1,14.5,14.8,15.2,15.6,16.0,16.4,16.8,17.2,17.6,18.1,18.5,19.0,19.5,
             20.0,20.4,20.8,21.2,21.6,22.1,22.5,23.0,23.4,23.9,24.4,24.9,25.4,25.9,26.4,26.9,27.5,28.0,28.6,29.1,29.7,30.3,30.9,31.5,32.2,32.8,33.5,34.1,34.8,35.5,36.2,37.0,37.7,38.5,39.2,40.0,40.8,41.6,42.5,43.3,44.2,45.1,46.0,46.9,47.8,48.8,49.7,50.7,51.7,52.8,53.8,54.9,56.0,57.1,58.3,59.4,60.6,61.8,63.1,64.3,65.6,66.9,68.3,69.6,71.0,72.5,73.9,75.4,76.9,78.4,80.0,81.6,83.2,84.9,86.6,88.3,90.1,91.9,93.7,95.6,97.5,99.5,101,104,106,108,110,112,114,117,119,121,124,126,129,131,134,136,139,142,145,148,151,154,157,160,163,166,170,173,176,180,184,187,191,195,200],
       "v": [2.32e-9,1.56e-8,3.62e-8,2.8e-8,6.3e-9,1.37e-9,9.6e-10,3.1e-10,1.8e-10,1.7e-10,1.22e-10,1.32e-10,1.32e-10,1.27e-10,8.9e-11,9.6e-11,9.0e-11,8.5e-11,9.0e-11,8.5e-11,8.2e-11,6.3e-11,7.0e-11,7.3e-11,
             7.7e-11,7.6e-11,6.8e-11,9.0e-11,9.6e-11,1.03e-10,6.3e-11,8.2e-11,5.6e-11,4.1e-11,3.9e-11,3.3e-11,3.8e-11,2.45e-11,2.9e-11,3.3e-11,
             2.8e-11,3.6e-11,2.7e-11,3.4e-11,2.6e-11,3.5e-11,2.7e-11,3.3e-11,2.6e-11,3.4e-11,2.7e-11,3.5e-11,2.6e-11,3.3e-11,2.7e-11,3.6e-11,2.8e-11,3.4e-11,2.6e-11,3.5e-11,2.8e-11,3.6e-11,2.7e-11,3.5e-11,2.8e-11,3.7e-11,2.7e-11,3.5e-11,2.9e-11,3.6e-11,2.7e-11,3.7e-11,2.8e-11,3.6e-11,2.9e-11,3.8e-11,2.8e-11,3.6e-11,2.9e-11,3.7e-11,2.8e-11,3.8e-11,2.9e-11,3.6e-11,2.8e-11,3.7e-11,2.9e-11,3.8e-11,2.9e-11,3.7e-11,2.8e-11,3.9e-11,3.0e-11,3.8e-11,2.9e-11,3.9e-11,3.0e-11,3.8e-11,2.9e-11,4.0e-11,3.0e-11,3.8e-11,3.1e-11,4.0e-11,3.0e-11,3.9e-11,3.1e-11,1.1e-10,3.2e-11,4.0e-11,3.0e-11,4.1e-11,3.1e-11,4.0e-11,3.0e-11,4.2e-11,3.1e-11,4.1e-11,3.0e-11,4.2e-11,3.1e-11,4.3e-11,3.2e-11,4.4e-11,3.2e-11,4.5e-11,3.3e-11,4.8e-11,3.4e-11,4.9e-11,3.5e-11,5.0e-11,1.4e-10,4.0e-11,5.5e-11,3.8e-11,5.7e-11,3.9e-11,5.8e-11,4.0e-11,6.0e-11,4.1e-11,1.2e-10,4.2e-11,5.8e-11,4.0e-11,1.0e-10,1.05e-10,4.4e-11,6.0e-11,4.2e-11,6.2e-11,2.2e-10,5.0e-11,3.5e-10,5.0e-11,6.5e-11,2.5e-10,2.7e-10,5.0e-11,
             2.1e-10,4.4e-11,3.5e-11,4.2e-11,3.0e-11,4.3e-11,2.9e-11,4.2e-11,2.8e-11,4.3e-11,2.9e-11,4.2e-11,2.8e-11,4.3e-11,2.7e-11,4.2e-11,2.8e-11,4.3e-11,2.7e-11,4.2e-11,1.0e-10,2.8e-11,4.3e-11,2.7e-11,4.1e-11,2.9e-11,4.4e-11,2.6e-11,4.2e-11,2.8e-11,4.0e-11,3.0e-11,4.3e-11,2.7e-11,4.1e-11,2.9e-11,4.4e-11,2.6e-11,4.2e-11,2.8e-11,4.0e-11,3.0e-11,4.3e-11,7.5e-11,2.7e-11,4.1e-11,2.9e-11,4.4e-11,2.6e-11,4.2e-11,2.8e-11,4.0e-11,3.0e-11,4.3e-11,2.7e-11,4.1e-11,2.9e-11,4.4e-11,2.6e-11,4.2e-11,2.8e-11,4.0e-11,3.0e-11,4.3e-11,2.7e-11,4.1e-11,2.9e-11,4.4e-11,2.6e-11,4.2e-11,2.8e-11,4.0e-11,3.0e-11,4.3e-11,2.7e-11,4.1e-11,2.9e-11,4.4e-11,2.6e-11,4.2e-11,2.8e-11,4.0e-11,3.0e-11,4.3e-11,2.7e-11,4.1e-11,2.9e-11,4.4e-11,2.6e-11,4.2e-11,2.8e-11,4.0e-11,3.0e-11,4.3e-11,2.7e-11,4.1e-11,2.9e-11,4.4e-11,2.6e-11,4.2e-11,2.8e-11,4.0e-11,3.0e-11,4.3e-11,2.7e-11,4.1e-11,2.9e-11,4.4e-11,2.6e-11,4.2e-11,2.8e-11,4.0e-11,3.0e-11,4.3e-11,2.7e-11,4.1e-11,2.9e-11]},
      {"s": "ADE .25mm noise", "f": [0.01,0.1,0.7,100], "v": [7.6e-10,1.5e-10,6e-11,6e-11]}
    ]
  },
  "resolve": {"scale": {"color": "independent", "y": "independent"}, "legend": {"color": "independent"}},
  "spacing": 135,
  "hconcat": [
    {
      "resolve": {"scale": {"color": "independent", "y": "independent"}, "legend": {"color": "independent"}},
      "spacing": 24,
      "vconcat": [
        {
          "width": 1862,
          "height": 561,
          "title": {"text": "ITMY_ST1", "fontSize": 28, "offset": 2},
          "data": {"name": "top"},
          "transform": [{"flatten": ["f", "v"]}],
          "mark": {"type": "line", "strokeWidth": 4, "clip": true},
          "encoding": {
            "x": {"field": "f", "type": "quantitative", "title": "Freq (hz)",
              "scale": {"type": "log", "domain": [0.01, 200], "nice": false},
              "axis": {"values": [0.01,0.02,0.03,0.04,0.05,0.06,0.07,0.08,0.09,0.1,0.2,0.3,0.4,0.5,0.6,0.7,0.8,0.9,1,2,3,4,5,6,7,8,9,10,20,30,40,50,60,70,80,90,100,200],
                "labelExpr": "datum.value === 0.01 ? '10⁻²' : datum.value === 0.1 ? '10⁻¹' : datum.value === 1 ? '10⁰' : datum.value === 10 ? '10¹' : datum.value === 100 ? '10²' : ''"}},
            "y": {"field": "v", "type": "quantitative", "title": "m/rthz",
              "scale": {"type": "log", "domain": [4.2e-11, 4.5e-7], "nice": false},
              "axis": {"values": [5e-11,6e-11,7e-11,8e-11,9e-11,1e-10,2e-10,3e-10,4e-10,5e-10,6e-10,7e-10,8e-10,9e-10,1e-9,2e-9,3e-9,4e-9,5e-9,6e-9,7e-9,8e-9,9e-9,1e-8,2e-8,3e-8,4e-8,5e-8,6e-8,7e-8,8e-8,9e-8,1e-7,2e-7,3e-7,4e-7],
                "labelExpr": "datum.value === 1e-10 ? '10⁻¹⁰' : datum.value === 1e-9 ? '10⁻⁹' : datum.value === 1e-8 ? '10⁻⁸' : datum.value === 1e-7 ? '10⁻⁷' : ''"}},
            "color": {"field": "s", "type": "nominal", "legend": {"title": null},
              "scale": {"domain": ["ITMY_ST1_CPSINF_H1","ITMY_ST1_CPSINF_H2","ITMY_ST1_CPSINF_H3","ITMY_ST1_CPSINF_V1","ITMY_ST1_CPSINF_V2","ITMY_ST1_CPSINF_V3","ADE 1mm noise"],
                "range": ["#1f77b4","#ff7f0e","#2ca02c","#d62728","#9467bd","#8c564b","#e377c2"]}}
          }
        },
        {
          "title": {"text": "calibration only >10hz", "orient": "bottom", "anchor": "middle", "fontSize": 17, "offset": 20, "dx": 29},
          "resolve": {"scale": {"color": "independent", "y": "independent"}, "legend": {"color": "independent"}},
          "vconcat": [
            {
              "width": 1862,
              "height": 561,
              "title": {"text": "ITMY_ST2", "fontSize": 28, "offset": 2},
              "data": {"name": "bot"},
              "transform": [{"flatten": ["f", "v"]}],
              "mark": {"type": "line", "strokeWidth": 4, "clip": true},
              "encoding": {
                "x": {"field": "f", "type": "quantitative", "title": "Freq (hz)",
                  "scale": {"type": "log", "domain": [0.01, 200], "nice": false},
                  "axis": {"values": [0.01,0.02,0.03,0.04,0.05,0.06,0.07,0.08,0.09,0.1,0.2,0.3,0.4,0.5,0.6,0.7,0.8,0.9,1,2,3,4,5,6,7,8,9,10,20,30,40,50,60,70,80,90,100,200],
                    "labelExpr": "datum.value === 0.01 ? '10⁻²' : datum.value === 0.1 ? '10⁻¹' : datum.value === 1 ? '10⁰' : datum.value === 10 ? '10¹' : datum.value === 100 ? '10²' : ''"}},
                "y": {"field": "v", "type": "quantitative", "title": "m/rthz",
                  "scale": {"type": "log", "domain": [3.2e-12, 2.94e-7], "nice": false},
                  "axis": {"values": [4e-12,5e-12,6e-12,7e-12,8e-12,9e-12,1e-11,2e-11,3e-11,4e-11,5e-11,6e-11,7e-11,8e-11,9e-11,1e-10,2e-10,3e-10,4e-10,5e-10,6e-10,7e-10,8e-10,9e-10,1e-9,2e-9,3e-9,4e-9,5e-9,6e-9,7e-9,8e-9,9e-9,1e-8,2e-8,3e-8,4e-8,5e-8,6e-8,7e-8,8e-8,9e-8,1e-7,2e-7],
                    "labelExpr": "datum.value === 1e-11 ? '10⁻¹¹' : datum.value === 1e-10 ? '10⁻¹⁰' : datum.value === 1e-9 ? '10⁻⁹' : datum.value === 1e-8 ? '10⁻⁸' : datum.value === 1e-7 ? '10⁻⁷' : ''"}},
                "color": {"field": "s", "type": "nominal", "legend": {"title": null},
                  "scale": {"domain": ["ITMY_ST2_CPSINF_H1","ITMY_ST2_CPSINF_H2","ITMY_ST2_CPSINF_H3","ITMY_ST2_CPSINF_V1","ITMY_ST2_CPSINF_V2","ITMY_ST2_CPSINF_V3","ADE .25mm noise"],
                    "range": ["#1f77b4","#ff7f0e","#2ca02c","#d62728","#9467bd","#8c564b","#e377c2"]}}
              }
            }
          ]
        }
      ]
    },
    {
      "width": 1,
      "height": 1390,
      "view": {"stroke": "transparent"},
      "title": {"text": "/opt/rtcds/userapps/trunk/sys/h1/scripts/BSC_cps_spectra.py", "orient": "left", "fontSize": 17, "offset": 0},
      "data": {"values": [{}]},
      "mark": {"type": "point", "opacity": 0},
      "encoding": {}
    }
  ],
  "config": {
    "font": "DejaVu Sans",
    "view": {"stroke": "black", "strokeWidth": 1.5},
    "title": {"color": "black", "fontWeight": "normal", "font": "DejaVu Sans"},
    "axis": {"grid": true, "gridColor": "#b0b0b0", "gridWidth": 1.2, "domain": false, "tickColor": "black", "tickSize": 5, "tickWidth": 1, "labelFontSize": 15, "labelColor": "black", "labelFont": "DejaVu Sans", "labelOverlap": false, "labelPadding": 4, "titleFontSize": 27, "titleFontWeight": "normal", "titleColor": "black", "titleFont": "DejaVu Sans", "titlePadding": 6},
    "legend": {"orient": "top-right", "offset": 16, "symbolType": "stroke", "symbolStrokeWidth": 4, "symbolSize": 2500, "labelFontSize": 28, "labelFont": "DejaVu Sans", "labelColor": "black", "labelLimit": 600, "fillColor": "rgba(255,255,255,0.8)", "strokeColor": "#cccccc", "cornerRadius": 5, "padding": 10, "rowPadding": 0, "labelOffset": 28}
  }
}
